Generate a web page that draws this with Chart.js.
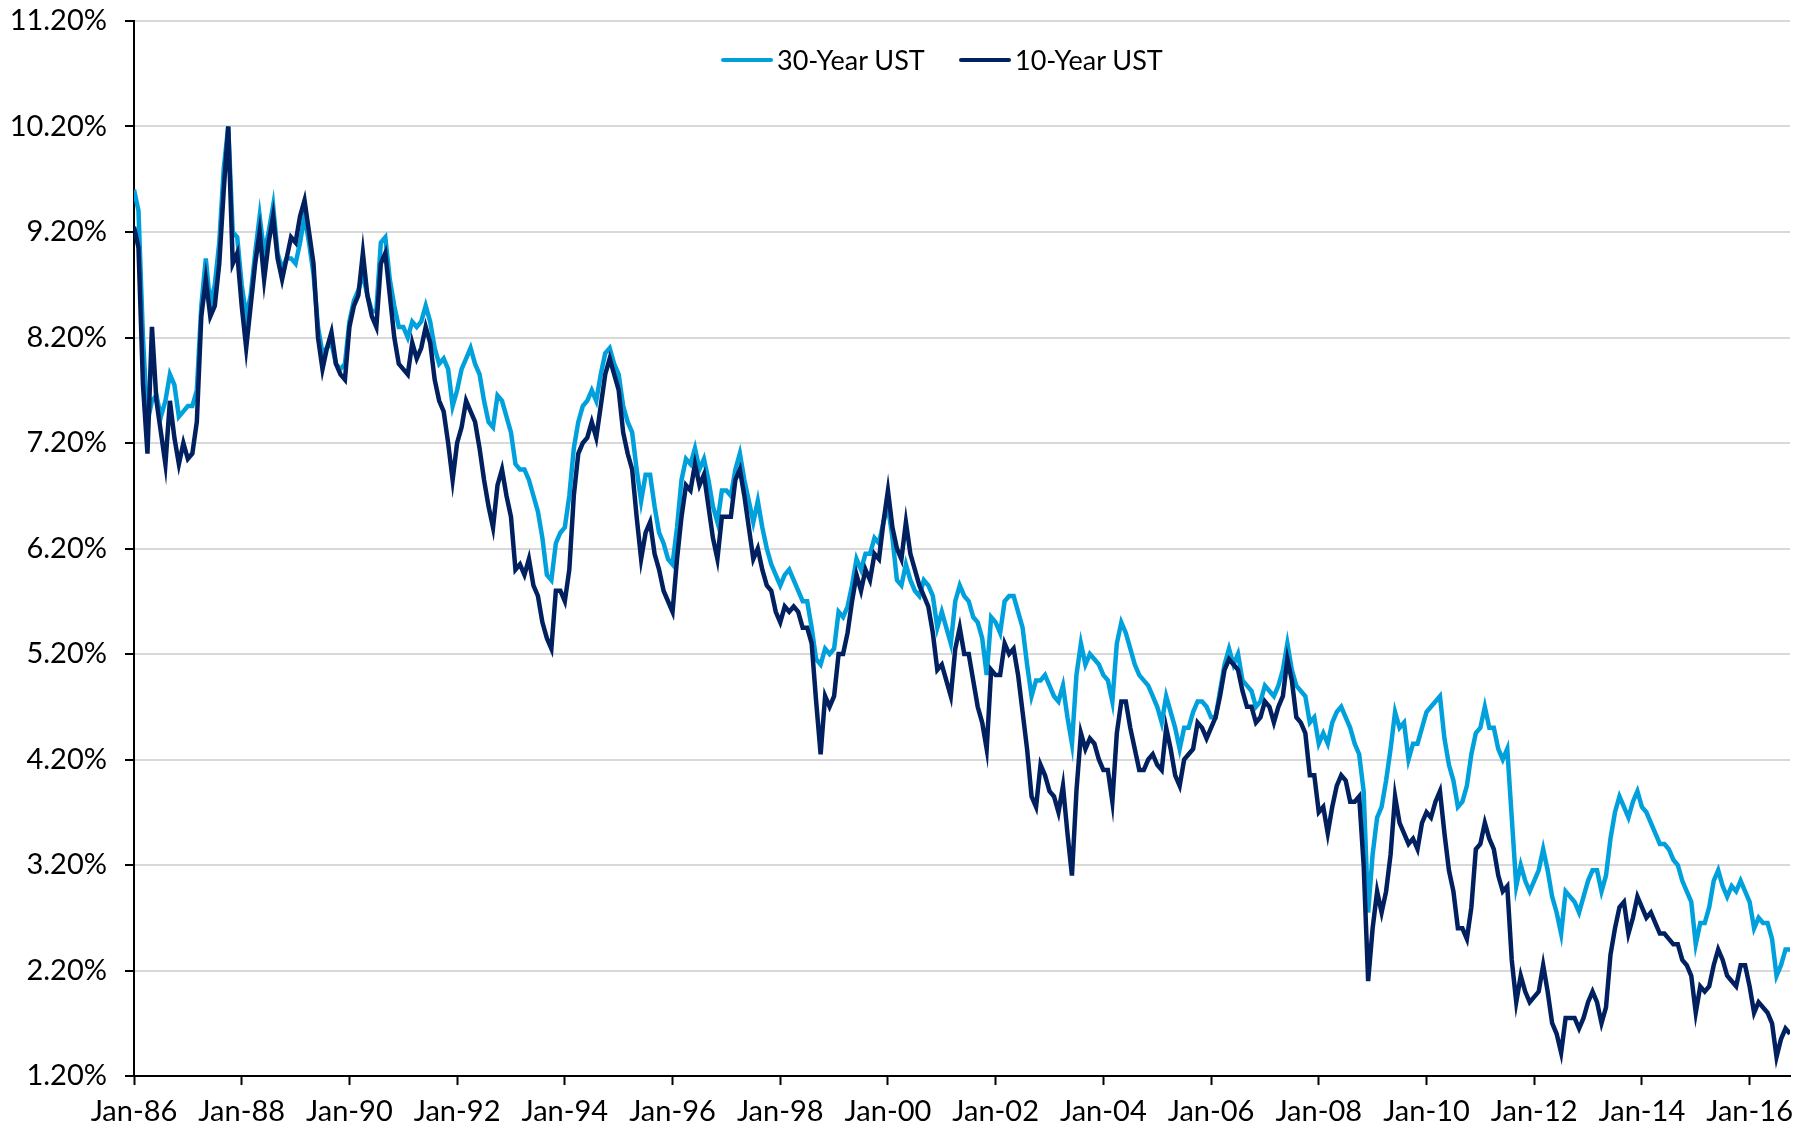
<!DOCTYPE html>
<html>
<head>
<meta charset="utf-8">
<title>30-Year vs 10-Year UST</title>
<script src="https://cdn.jsdelivr.net/npm/chart.js@4.4.1/dist/chart.umd.min.js"></script>
<style>
  html, body { margin: 0; padding: 0; background: #fff; }
  #wrap { position: relative; width: 1804px; height: 1131px; }
  #legend {
    position: absolute; top: 0; left: 0;
    font: 27px Lato, "Open Sans", sans-serif; color: #000;
    white-space: nowrap;
  }
  .item { position: absolute; top: 43px; display: flex; align-items: center; }
  .swatch { width: 52px; height: 4px; border-radius: 2px; margin-right: 4px; }
</style>
</head>
<body>
<div id="wrap">
  <canvas id="myChart" width="1804" height="1131"></canvas>
  <div id="legend"></div>
</div>
<script>
// x axis labels, one every two years from Jan-86
const tickLabels = [
  "Jan-86", "Jan-88", "Jan-90", "Jan-92", "Jan-94", "Jan-96", "Jan-98", "Jan-00",
  "Jan-02", "Jan-04", "Jan-06", "Jan-08", "Jan-10", "Jan-12", "Jan-14", "Jan-16",
];

// monthly yields (%), Jan 1986 .. Oct 2016
const ust30 = [
  9.6, 9.4, 8.2, 7.4, 7.6, 7.65, 7.45, 7.6, 7.85, 7.75, 7.45, 7.5,
  7.55, 7.55, 7.7, 8.5, 8.95, 8.5, 8.7, 9.1, 9.8, 10.2, 9.2, 9.15,
  8.7, 8.4, 8.6, 9.0, 9.35, 9.0, 9.2, 9.45, 9.0, 8.85, 8.95, 8.95,
  8.9, 9.1, 9.35, 9.1, 8.8, 8.3, 8.05, 8.1, 8.15, 7.95, 7.9, 7.95,
  8.35, 8.55, 8.65, 8.8, 8.6, 8.45, 8.45, 9.1, 9.15, 8.75, 8.5, 8.3,
  8.3, 8.2, 8.35, 8.3, 8.35, 8.5, 8.35, 8.1, 7.95, 8.0, 7.9, 7.55,
  7.7, 7.9, 8.0, 8.1, 7.95, 7.85, 7.6, 7.4, 7.35, 7.65, 7.6, 7.45,
  7.3, 7.0, 6.95, 6.95, 6.85, 6.7, 6.55, 6.3, 5.95, 5.9, 6.25, 6.35,
  6.4, 6.7, 7.15, 7.4, 7.55, 7.6, 7.7, 7.6, 7.85, 8.05, 8.1, 7.95,
  7.85, 7.55, 7.4, 7.3, 6.95, 6.65, 6.9, 6.9, 6.6, 6.35, 6.25, 6.1,
  6.05, 6.4, 6.85, 7.05, 7.0, 7.15, 6.95, 7.05, 6.85, 6.6, 6.45, 6.75,
  6.75, 6.7, 6.95, 7.1, 6.85, 6.65, 6.45, 6.65, 6.4, 6.2, 6.05, 5.95,
  5.85, 5.95, 6.0, 5.9, 5.8, 5.7, 5.7, 5.45, 5.15, 5.1, 5.25, 5.2,
  5.25, 5.6, 5.55, 5.65, 5.85, 6.1, 6.0, 6.15, 6.15, 6.3, 6.25, 6.45,
  6.6, 6.3, 5.9, 5.85, 6.05, 5.9, 5.8, 5.75, 5.9, 5.85, 5.75, 5.45,
  5.6, 5.45, 5.3, 5.7, 5.85, 5.75, 5.7, 5.55, 5.5, 5.35, 5.0, 5.55,
  5.5, 5.4, 5.7, 5.75, 5.75, 5.6, 5.45, 5.1, 4.8, 4.95, 4.95, 5.0,
  4.9, 4.8, 4.75, 4.9, 4.6, 4.35, 5.0, 5.3, 5.1, 5.2, 5.15, 5.1,
  5.0, 4.95, 4.75, 5.3, 5.5, 5.4, 5.25, 5.1, 5.0, 4.95, 4.9, 4.8,
  4.7, 4.55, 4.8, 4.65, 4.5, 4.3, 4.5, 4.5, 4.65, 4.75, 4.75, 4.7,
  4.6, 4.6, 4.85, 5.1, 5.25, 5.1, 5.2, 4.95, 4.9, 4.85, 4.7, 4.75,
  4.9, 4.85, 4.8, 4.9, 5.05, 5.3, 5.05, 4.9, 4.85, 4.8, 4.55, 4.6,
  4.35, 4.45, 4.35, 4.55, 4.65, 4.7, 4.6, 4.5, 4.35, 4.25, 3.9, 2.75,
  3.3, 3.65, 3.75, 4.0, 4.3, 4.65, 4.5, 4.55, 4.2, 4.35, 4.35, 4.5,
  4.65, 4.7, 4.75, 4.8, 4.4, 4.15, 4.0, 3.75, 3.8, 3.95, 4.25, 4.45,
  4.5, 4.7, 4.5, 4.5, 4.3, 4.2, 4.3, 3.65, 3.0, 3.2, 3.05, 2.95,
  3.05, 3.15, 3.35, 3.15, 2.9, 2.75, 2.55, 2.95, 2.9, 2.85, 2.75, 2.9,
  3.05, 3.15, 3.15, 2.95, 3.1, 3.45, 3.7, 3.85, 3.75, 3.65, 3.8, 3.9,
  3.75, 3.7, 3.6, 3.5, 3.4, 3.4, 3.35, 3.25, 3.2, 3.05, 2.95, 2.85,
  2.45, 2.65, 2.65, 2.8, 3.05, 3.15, 3.0, 2.9, 3.0, 2.95, 3.05, 2.95,
  2.85, 2.6, 2.7, 2.65, 2.65, 2.5, 2.15, 2.25, 2.4, 2.4,
];

const ust10 = [
  9.25, 9.05, 7.75, 7.1, 8.3, 7.6, 7.3, 7.0, 7.6, 7.25, 7.0, 7.2,
  7.05, 7.1, 7.4, 8.4, 8.75, 8.4, 8.5, 8.9, 9.6, 10.2, 8.9, 9.0,
  8.5, 8.1, 8.5, 8.9, 9.2, 8.75, 9.1, 9.35, 8.95, 8.75, 8.95, 9.15,
  9.1, 9.35, 9.5, 9.2, 8.9, 8.2, 7.9, 8.1, 8.25, 7.95, 7.85, 7.8,
  8.3, 8.5, 8.6, 9.0, 8.6, 8.4, 8.3, 8.9, 9.0, 8.6, 8.2, 7.95,
  7.9, 7.85, 8.15, 8.0, 8.1, 8.3, 8.15, 7.8, 7.6, 7.5, 7.2, 6.85,
  7.2, 7.35, 7.6, 7.5, 7.4, 7.15, 6.85, 6.6, 6.4, 6.8, 6.95, 6.7,
  6.5, 6.0, 6.05, 5.95, 6.1, 5.85, 5.75, 5.5, 5.35, 5.25, 5.8, 5.8,
  5.7, 6.0, 6.7, 7.1, 7.2, 7.25, 7.4, 7.25, 7.55, 7.85, 8.0, 7.85,
  7.7, 7.3, 7.1, 6.95, 6.5, 6.1, 6.35, 6.45, 6.15, 6.0, 5.8, 5.7,
  5.6, 6.1, 6.5, 6.8, 6.75, 7.0, 6.8, 6.9, 6.6, 6.3, 6.1, 6.5,
  6.5, 6.5, 6.85, 6.95, 6.7, 6.4, 6.1, 6.2, 6.0, 5.85, 5.8, 5.6,
  5.5, 5.65, 5.6, 5.65, 5.6, 5.45, 5.45, 5.3, 4.75, 4.25, 4.8, 4.7,
  4.8, 5.2, 5.2, 5.4, 5.7, 5.95, 5.8, 6.0, 5.9, 6.15, 6.1, 6.45,
  6.75, 6.4, 6.2, 6.1, 6.45, 6.15, 6.0, 5.85, 5.75, 5.65, 5.4, 5.05,
  5.1, 4.95, 4.8, 5.25, 5.45, 5.2, 5.2, 4.95, 4.7, 4.55, 4.3, 5.05,
  5.0, 5.0, 5.3, 5.2, 5.25, 5.0, 4.65, 4.3, 3.85, 3.75, 4.15, 4.05,
  3.9, 3.85, 3.7, 3.95, 3.5, 3.1, 3.9, 4.45, 4.3, 4.4, 4.35, 4.2,
  4.1, 4.1, 3.8, 4.45, 4.75, 4.75, 4.5, 4.3, 4.1, 4.1, 4.2, 4.25,
  4.15, 4.1, 4.5, 4.3, 4.05, 3.95, 4.2, 4.25, 4.3, 4.55, 4.5, 4.4,
  4.5, 4.6, 4.8, 5.05, 5.15, 5.1, 5.05, 4.85, 4.7, 4.7, 4.55, 4.6,
  4.75, 4.7, 4.55, 4.7, 4.8, 5.15, 4.95, 4.6, 4.55, 4.45, 4.05, 4.05,
  3.7, 3.75, 3.5, 3.75, 3.95, 4.05, 4.0, 3.8, 3.8, 3.85, 3.2, 2.1,
  2.6, 2.95, 2.75, 2.95, 3.3, 3.85, 3.6, 3.5, 3.4, 3.45, 3.35, 3.6,
  3.7, 3.65, 3.8, 3.9, 3.5, 3.15, 2.95, 2.6, 2.6, 2.5, 2.8, 3.35,
  3.4, 3.6, 3.45, 3.35, 3.1, 2.95, 3.0, 2.3, 1.9, 2.15, 2.0, 1.9,
  1.95, 2.0, 2.25, 2.0, 1.7, 1.6, 1.42, 1.75, 1.75, 1.75, 1.65, 1.75,
  1.9, 2.0, 1.9, 1.7, 1.85, 2.35, 2.6, 2.8, 2.85, 2.55, 2.7, 2.9,
  2.8, 2.7, 2.75, 2.65, 2.55, 2.55, 2.5, 2.45, 2.45, 2.3, 2.25, 2.15,
  1.8, 2.05, 2.0, 2.05, 2.25, 2.4, 2.3, 2.15, 2.1, 2.05, 2.25, 2.25,
  2.05, 1.8, 1.9, 1.85, 1.8, 1.7, 1.38, 1.55, 1.65, 1.6,
];

const yTicks = [1.2, 2.2, 3.2, 4.2, 5.2, 6.2, 7.2, 8.2, 9.2, 10.2, 11.2];

const colors = { ust30: "#00a0dc", ust10: "#002060" };
const fontFamily = 'Lato, "Open Sans", sans-serif';

// month index -> point
const toPoints = (arr) => arr.map((v, i) => ({ x: i, y: v }));

Chart.defaults.font.family = fontFamily;
Chart.defaults.color = "#000";

const ctx = document.getElementById("myChart").getContext("2d");
const myChart = new Chart(ctx, {
  type: "line",
  data: {
    datasets: [
      {
        label: "30-Year UST",
        data: toPoints(ust30),
        borderColor: colors.ust30,
        borderWidth: 4.5,
        pointRadius: 0,
        fill: false,
        order: 2,
      },
      {
        label: "10-Year UST",
        data: toPoints(ust10),
        borderColor: colors.ust10,
        borderWidth: 4.5,
        pointRadius: 0,
        fill: false,
        order: 1,
      },
    ],
  },
  options: {
    responsive: false,
    animation: false,
    devicePixelRatio: 1,
    layout: { padding: { top: 21, right: 14, left: 0, bottom: 0 } },
    plugins: { legend: { display: false }, tooltip: { enabled: false } },
    scales: {
      x: {
        type: "linear",
        min: 0,
        max: ust10.length - 1,
        afterFit: (scale) => { scale.height = 55; },
        ticks: {
          stepSize: 24,
          includeBounds: false,
          autoSkip: false,
          maxRotation: 0,
          padding: 9,
          font: { size: 29 },
          callback: (v) => tickLabels[v / 24] || "",
        },
        grid: {
          drawOnChartArea: false,
          drawTicks: true,
          tickLength: 9,
          tickColor: "#000",
          tickWidth: 2,
        },
        border: { display: true, color: "#000", width: 2 },
      },
      y: {
        min: yTicks[0],
        max: yTicks[yTicks.length - 1],
        afterFit: (scale) => {
          scale.width = 134;
          scale.paddingTop = 0; // let the top label hang into the margin
        },
        afterBuildTicks: (scale) => {
          scale.ticks = yTicks.map((v) => ({ value: v }));
        },
        ticks: {
          padding: 18,
          font: { size: 29 },
          callback: (v) => v.toFixed(2) + "%",
        },
        grid: {
          color: "#d9d9d9",
          lineWidth: 2,
          tickLength: 9,
          tickColor: "#000",
          tickWidth: 2,
        },
        border: { display: true, color: "#000", width: 2 },
      },
    },
  },
});

// legend sits inside the plot, as in the original
const legendLeft = [721, 959];
const legend = document.getElementById("legend");
myChart.data.datasets.forEach((ds, i) => {
  const item = document.createElement("div");
  item.className = "item";
  item.style.left = legendLeft[i] + "px";
  const sw = document.createElement("span");
  sw.className = "swatch";
  sw.style.background = ds.borderColor;
  item.appendChild(sw);
  item.appendChild(document.createTextNode(ds.label));
  legend.appendChild(item);
});
</script>
</body>
</html>
